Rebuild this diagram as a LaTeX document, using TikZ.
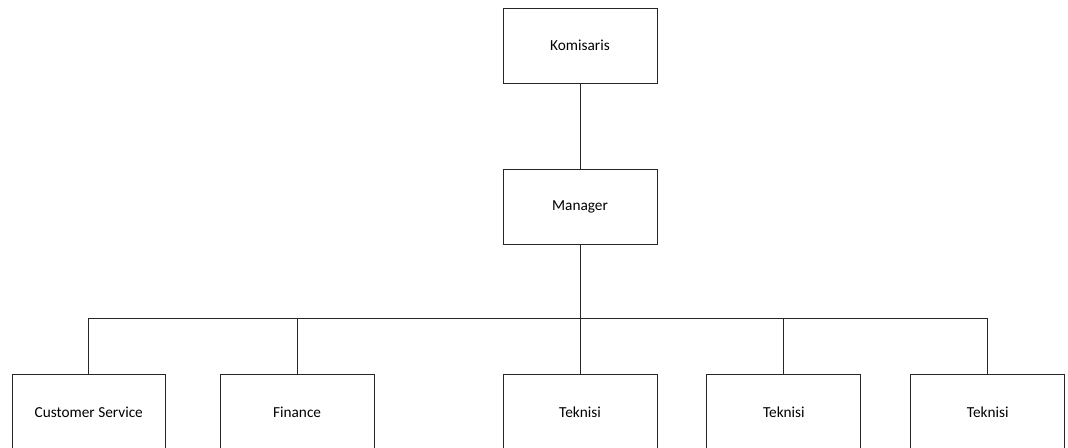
\documentclass[tikz,border=0pt]{standalone}
\usepackage{fontspec}
\setmainfont{Carlito}
\usepackage{tikz}
\usetikzlibrary{positioning}
\tikzstyle{unit} = [rectangle, draw=black!85, line width=0.5pt, minimum width=3.08cm, minimum height=1.5cm, text centered, font=\fontsize{8.7}{10}\selectfont]
\tikzstyle{link} = [draw=black!85, line width=0.5pt]

\begin{document}
\begin{tikzpicture}[node distance=1.72cm]
        \useasboundingbox (-11.6,0.91) rectangle (9.76,-8.05);
        \clip (-11.6,0.91) rectangle (9.76,-8.05);
        \node (kom) [unit] {Komisaris};
        \node (mgr) [unit, below=of kom] {Manager};

        \node (t1) [unit, below=2.58cm of mgr] {Teknisi};
        \node (fin) [unit, left=2.56cm of t1] {Finance};
        \node (cs) [unit, left=1.08cm of fin, minimum width=3.06cm] {Customer Service};
        \node (t2) [unit, right=0.98cm of t1] {Teknisi};
        \node (t3) [unit, right=0.98cm of t2] {Teknisi};

        \coordinate[below=1.46cm of mgr.south] (bus);
        \draw[link] (kom) -- (mgr);
        \draw[link] (mgr) -- (bus);
        \draw[link] (cs.north) |- (bus) -| (t3.north);
        \foreach \n in {fin,t1,t2}
            \draw[link] (\n.north) -- (\n.north |- bus);
    \end{tikzpicture}
\end{document}
